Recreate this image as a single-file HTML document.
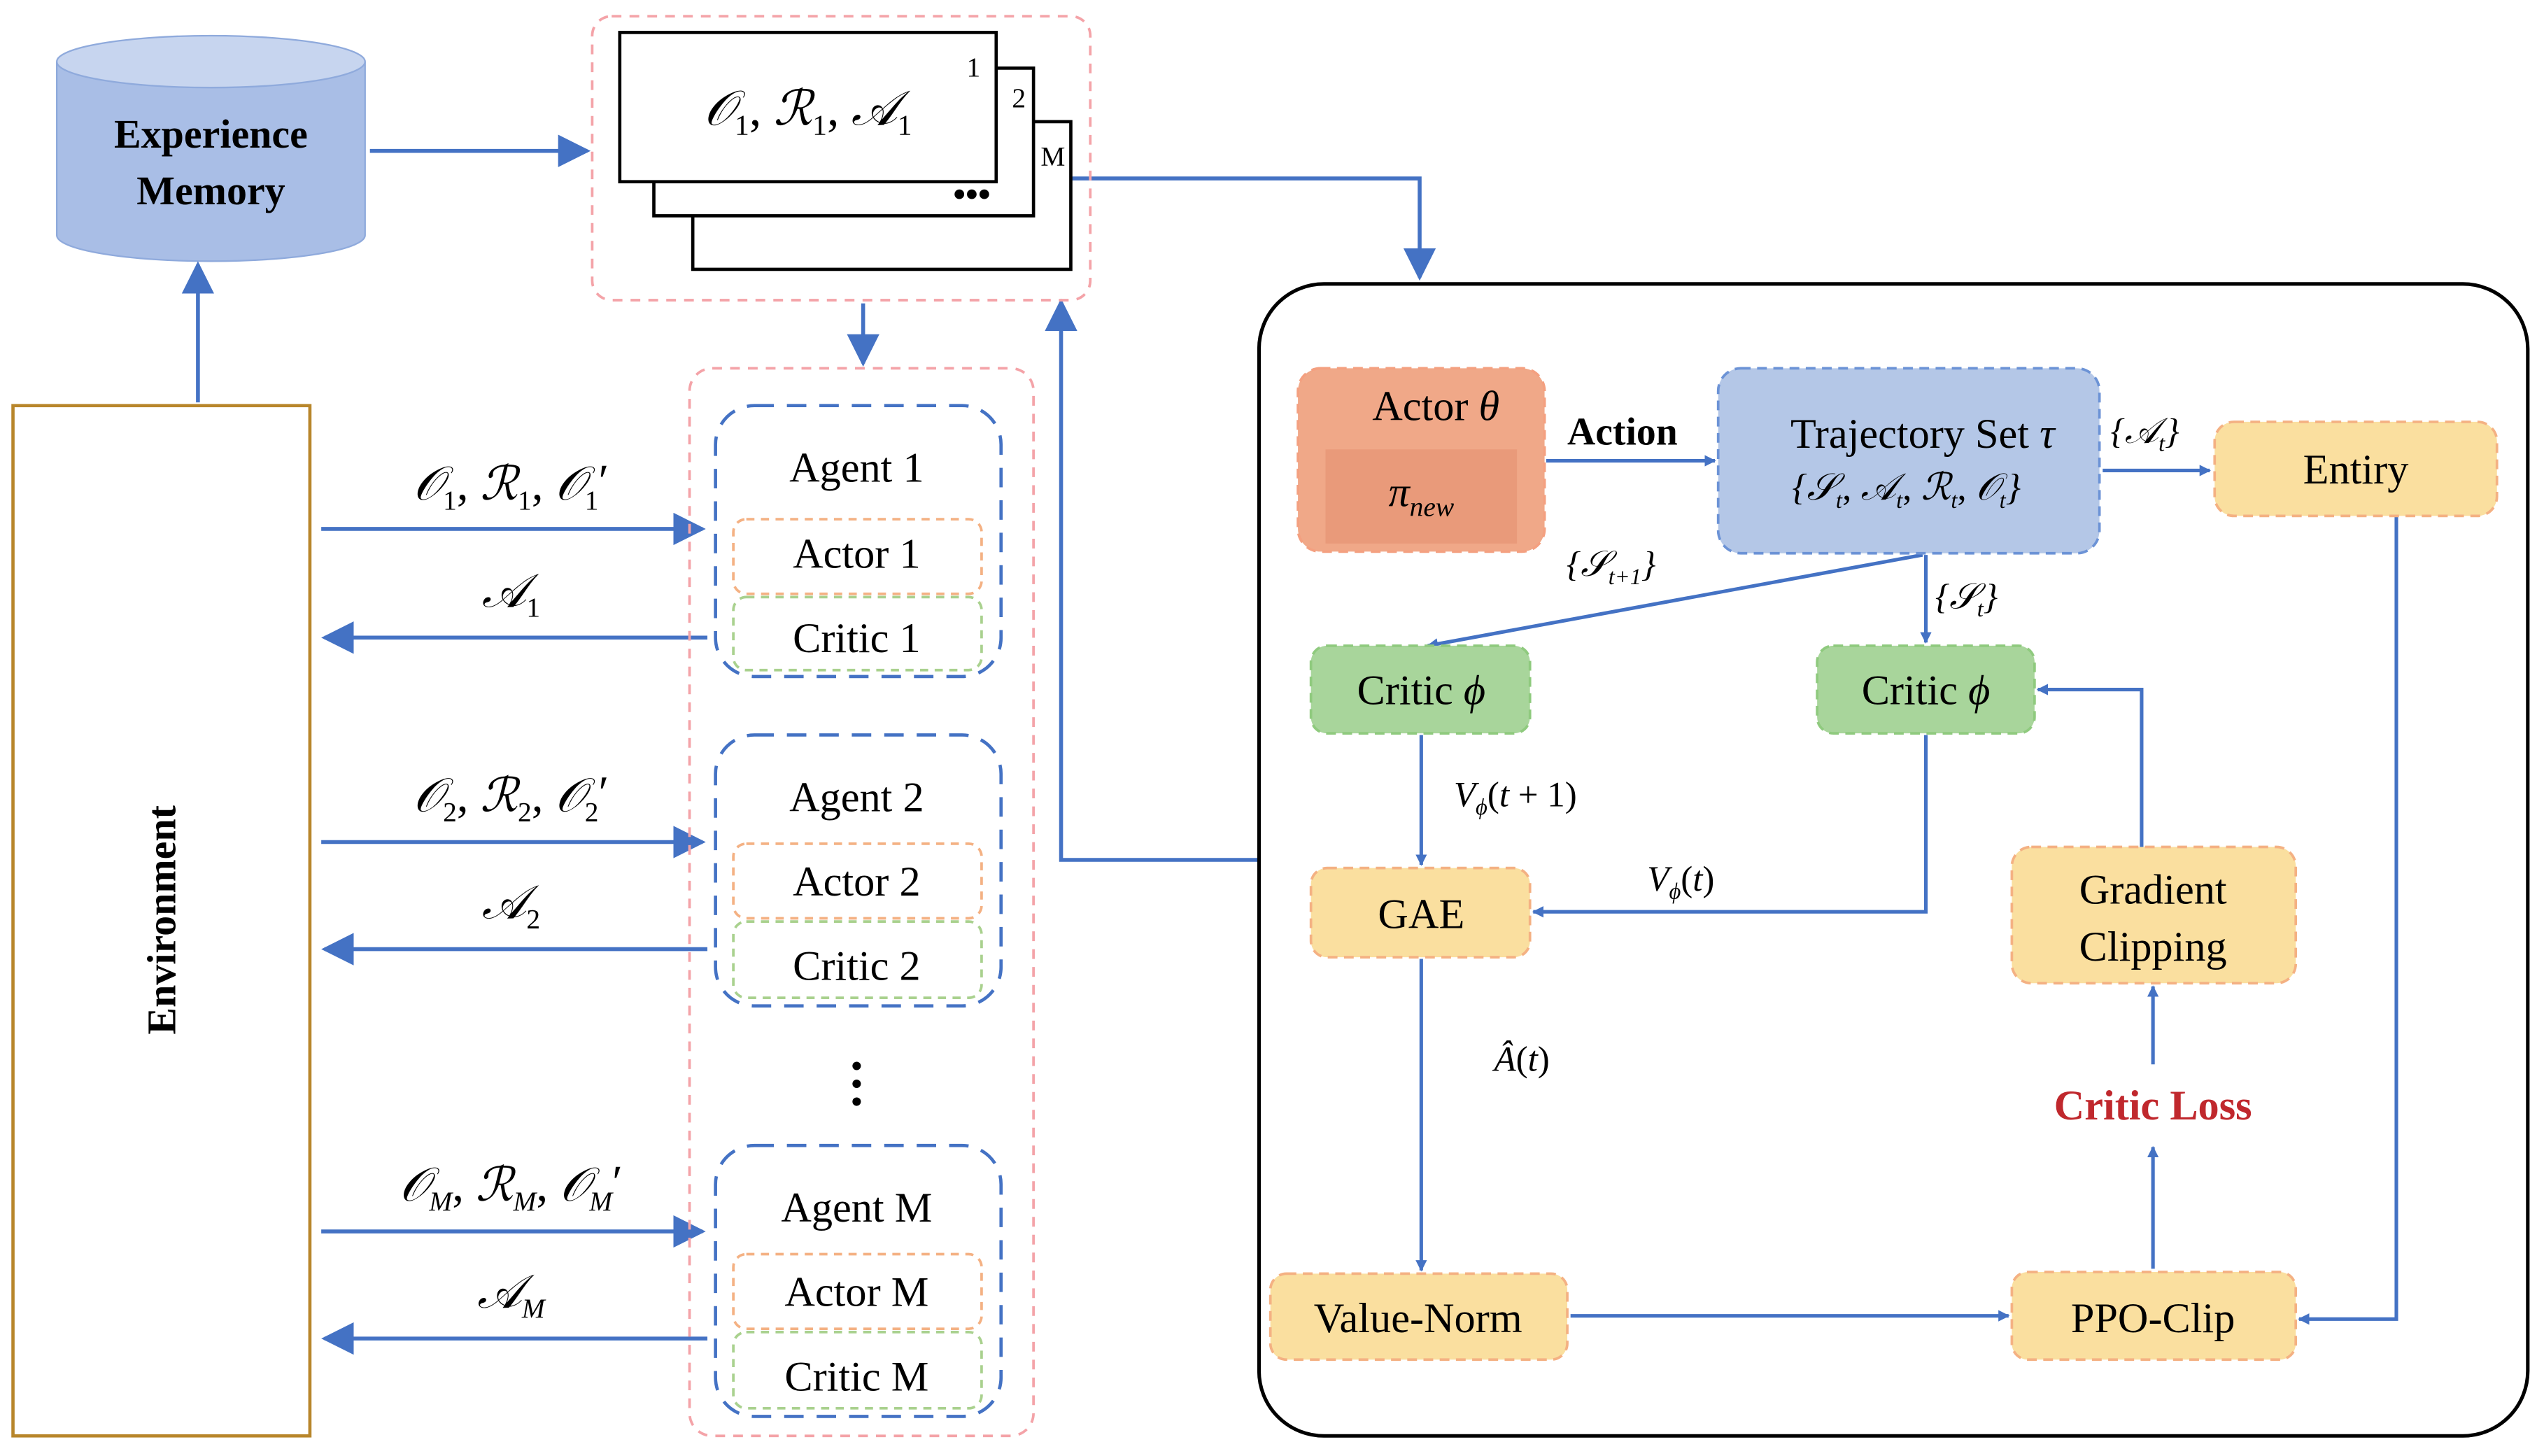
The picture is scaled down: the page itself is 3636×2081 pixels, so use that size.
<!DOCTYPE html>
<html><head><meta charset="utf-8">
<style>
html,body{margin:0;padding:0;background:#fff;}
svg{display:block;font-family:"Liberation Serif","Times New Roman","DejaVu Serif",serif;}
svg text{font-family:"Liberation Serif","Times New Roman","DejaVu Serif",serif !important;fill:#000;}
.m{font-style:italic;}
</style></head><body>
<svg width="3636" height="2081" viewBox="0 0 1568 897.4" preserveAspectRatio="none" xmlns="http://www.w3.org/2000/svg" font-family="Liberation Serif, Times New Roman, DejaVu Serif, serif">
<defs>
<marker id="a" viewBox="0 0 10 10" refX="9" refY="5" markerWidth="7" markerHeight="7" orient="auto" markerUnits="userSpaceOnUse">
<path d="M0,0 L10,5 L0,10 z" fill="#4472c4"/></marker>
<marker id="b" viewBox="0 0 10 10" refX="9" refY="5" markerWidth="20" markerHeight="20" orient="auto" markerUnits="userSpaceOnUse">
<path d="M0,0 L10,5 L0,10 z" fill="#4472c4"/></marker>
</defs>
<path d="M35,38 L35,145 A95,16 0 0 0 225,145 L225,38" fill="#a9bee6" stroke="#8faadc" stroke-width="1"/>
<ellipse cx="130" cy="38" rx="95" ry="16" fill="#c7d5ef" stroke="#8faadc" stroke-width="1"/>
<text x="130" y="91" font-size="25" font-weight="bold" text-anchor="middle">Experience</text>
<text x="130" y="126" font-size="25" font-weight="bold" text-anchor="middle">Memory</text>

<g stroke="#4472c4" stroke-width="2.4" fill="none">
<line x1="228" y1="93" x2="362" y2="93" marker-end="url(#b)"/>
<line x1="122" y1="248" x2="122" y2="163" marker-end="url(#b)"/>
<polyline points="660,110 875,110 875,171" marker-end="url(#b)"/>
<line x1="532" y1="187" x2="532" y2="224" marker-end="url(#b)"/>
<polyline points="776,530 654,530 654,186" marker-end="url(#b)"/>
<line x1="198" y1="326" x2="433" y2="326" marker-end="url(#b)"/>
<line x1="436" y1="393" x2="200" y2="393" marker-end="url(#b)"/>
<line x1="198" y1="519" x2="433" y2="519" marker-end="url(#b)"/>
<line x1="436" y1="585" x2="200" y2="585" marker-end="url(#b)"/>
<line x1="198" y1="759" x2="433" y2="759" marker-end="url(#b)"/>
<line x1="436" y1="825" x2="200" y2="825" marker-end="url(#b)"/>
</g>

<rect x="365" y="10" width="307" height="175" rx="12" fill="none" stroke="#f4a3a8" stroke-width="1.6" stroke-dasharray="6,5"/>
<rect x="427" y="75" width="233" height="91" fill="#fff" stroke="#000" stroke-width="2"/>
<rect x="403" y="42" width="234" height="91" fill="#fff" stroke="#000" stroke-width="2"/>
<rect x="382" y="20" width="232" height="92" fill="#fff" stroke="#000" stroke-width="2"/>
<text x="498" y="77" font-size="30" text-anchor="middle" class="m">𝒪<tspan font-size="18" dy="6" font-style="normal">1</tspan><tspan dy="-6" font-style="normal">, </tspan>ℛ<tspan font-size="18" dy="6" font-style="normal">1</tspan><tspan dy="-6" font-style="normal">, </tspan>𝒜<tspan font-size="18" dy="6" font-style="normal">1</tspan></text>
<text x="600" y="47" font-size="17" text-anchor="middle">1</text>
<text x="628" y="66" font-size="17" text-anchor="middle">2</text>
<text x="649" y="102" font-size="17" text-anchor="middle">M</text>
<text x="599" y="127" font-size="22" font-weight="bold" text-anchor="middle">•••</text>

<rect x="8" y="250" width="183" height="635" fill="#fff" stroke="#b8862b" stroke-width="2"/>
<text transform="translate(108,567) rotate(-90)" font-size="25" font-weight="bold" text-anchor="middle">Environment</text>

<g font-size="29" class="m">
<text x="315" y="308" text-anchor="middle">𝒪<tspan font-size="17" dy="6" font-style="normal">1</tspan><tspan dy="-6" font-style="normal">, </tspan>ℛ<tspan font-size="17" dy="6" font-style="normal">1</tspan><tspan dy="-6" font-style="normal">, </tspan>𝒪<tspan font-size="17" dy="6" font-style="normal">1</tspan><tspan dy="-8" font-style="normal">′</tspan></text>
<text x="315" y="374" text-anchor="middle">𝒜<tspan font-size="17" dy="6" font-style="normal">1</tspan></text>
<text x="315" y="500" text-anchor="middle">𝒪<tspan font-size="17" dy="6" font-style="normal">2</tspan><tspan dy="-6" font-style="normal">, </tspan>ℛ<tspan font-size="17" dy="6" font-style="normal">2</tspan><tspan dy="-6" font-style="normal">, </tspan>𝒪<tspan font-size="17" dy="6" font-style="normal">2</tspan><tspan dy="-8" font-style="normal">′</tspan></text>
<text x="315" y="566" text-anchor="middle">𝒜<tspan font-size="17" dy="6" font-style="normal">2</tspan></text>
<text x="315" y="740" text-anchor="middle">𝒪<tspan font-size="17" dy="6">M</tspan><tspan dy="-6" font-style="normal">, </tspan>ℛ<tspan font-size="17" dy="6">M</tspan><tspan dy="-6" font-style="normal">, </tspan>𝒪<tspan font-size="17" dy="6">M</tspan><tspan dy="-8" font-style="normal">′</tspan></text>
<text x="315" y="806" text-anchor="middle">𝒜<tspan font-size="17" dy="6">M</tspan></text>
</g>

<rect x="425" y="227" width="212" height="658" rx="14" fill="none" stroke="#f4a3a8" stroke-width="1.6" stroke-dasharray="6,5"/>
<g font-size="26" text-anchor="middle">
<rect x="441" y="250" width="176" height="167" rx="24" fill="none" stroke="#4472c4" stroke-width="2" stroke-dasharray="12,8"/>
<rect x="452" y="320" width="153" height="46" rx="8" fill="none" stroke="#f4b183" stroke-width="1.6" stroke-dasharray="5,4"/>
<rect x="452" y="368" width="153" height="45" rx="8" fill="none" stroke="#a9d18e" stroke-width="1.6" stroke-dasharray="5,4"/>
<text x="528" y="297">Agent 1</text><text x="528" y="350">Actor 1</text><text x="528" y="402">Critic 1</text>
<rect x="441" y="453" width="176" height="167" rx="24" fill="none" stroke="#4472c4" stroke-width="2" stroke-dasharray="12,8"/>
<rect x="452" y="520" width="153" height="46" rx="8" fill="none" stroke="#f4b183" stroke-width="1.6" stroke-dasharray="5,4"/>
<rect x="452" y="568" width="153" height="47" rx="8" fill="none" stroke="#a9d18e" stroke-width="1.6" stroke-dasharray="5,4"/>
<text x="528" y="500">Agent 2</text><text x="528" y="552">Actor 2</text><text x="528" y="604">Critic 2</text>
<rect x="441" y="706" width="176" height="167" rx="24" fill="none" stroke="#4472c4" stroke-width="2" stroke-dasharray="12,8"/>
<rect x="452" y="773" width="153" height="46" rx="8" fill="none" stroke="#f4b183" stroke-width="1.6" stroke-dasharray="5,4"/>
<rect x="452" y="821" width="153" height="47" rx="8" fill="none" stroke="#a9d18e" stroke-width="1.6" stroke-dasharray="5,4"/>
<text x="528" y="753">Agent M</text><text x="528" y="805">Actor M</text><text x="528" y="857">Critic M</text>
</g>
<circle cx="528" cy="657" r="2.6"/><circle cx="528" cy="668" r="2.6"/><circle cx="528" cy="679" r="2.6"/>

<rect x="776" y="175" width="782" height="710" rx="40" fill="none" stroke="#000" stroke-width="2.2"/>
<g stroke="#4472c4" stroke-width="2.2" fill="none">
<line x1="953" y1="284" x2="1057" y2="284" marker-end="url(#a)"/>
<line x1="1296" y1="290" x2="1362" y2="290" marker-end="url(#a)"/>
<polyline points="1477,318 1477,813 1417,813" marker-end="url(#a)"/>
<line x1="1185" y1="342" x2="880" y2="398" marker-end="url(#a)"/>
<line x1="1187" y1="342" x2="1187" y2="396" marker-end="url(#a)"/>
<line x1="876" y1="453" x2="876" y2="533" marker-end="url(#a)"/>
<polyline points="1187,453 1187,562 945,562" marker-end="url(#a)"/>
<line x1="876" y1="591" x2="876" y2="783" marker-end="url(#a)"/>
<line x1="968" y1="811" x2="1238" y2="811" marker-end="url(#a)"/>
<line x1="1327" y1="782" x2="1327" y2="707" marker-end="url(#a)"/>
<line x1="1327" y1="656" x2="1327" y2="608" marker-end="url(#a)"/>
<polyline points="1320,522 1320,425 1256,425" marker-end="url(#a)"/>
</g>

<g font-size="26" text-anchor="middle">
<rect x="800" y="227" width="152" height="113" rx="14" fill="#f0a888" stroke="#f4a080" stroke-width="1.6" stroke-dasharray="6,4"/>
<rect x="817" y="277" width="118" height="58" fill="#e99a7a"/>
<text x="885" y="259">Actor <tspan class="m">θ</tspan></text>
<text x="876" y="312" class="m">π<tspan font-size="17" dy="6">new</tspan></text>

<rect x="1059" y="227" width="235" height="114" rx="14" fill="#b4c7e7" stroke="#6c93d6" stroke-width="1.6" stroke-dasharray="6,4"/>
<text x="1185" y="276">Trajectory Set <tspan class="m">τ</tspan></text>
<text x="1175" y="308" font-size="23" class="m">{𝒮<tspan font-size="14" dy="5">t</tspan><tspan dy="-5" font-style="normal">, </tspan>𝒜<tspan font-size="14" dy="5">t</tspan><tspan dy="-5" font-style="normal">, </tspan>ℛ<tspan font-size="14" dy="5">t</tspan><tspan dy="-5" font-style="normal">, </tspan>𝒪<tspan font-size="14" dy="5">t</tspan><tspan dy="-5">}</tspan></text>

<rect x="1365" y="260" width="174" height="58" rx="12" fill="#fadf9f" stroke="#f4b183" stroke-width="1.6" stroke-dasharray="6,4"/>
<text x="1452" y="298">Entiry</text>

<rect x="808" y="398" width="135" height="54" rx="10" fill="#a8d59b" stroke="#8fca7e" stroke-width="1.6" stroke-dasharray="6,4"/>
<text x="876" y="434">Critic <tspan class="m">ϕ</tspan></text>
<rect x="1120" y="398" width="134" height="54" rx="10" fill="#a8d59b" stroke="#8fca7e" stroke-width="1.6" stroke-dasharray="6,4"/>
<text x="1187" y="434">Critic <tspan class="m">ϕ</tspan></text>

<rect x="808" y="535" width="135" height="55" rx="10" fill="#fadf9f" stroke="#f4b183" stroke-width="1.6" stroke-dasharray="6,4"/>
<text x="876" y="572">GAE</text>
<rect x="1240" y="522" width="175" height="84" rx="12" fill="#fadf9f" stroke="#f4b183" stroke-width="1.6" stroke-dasharray="6,4"/>
<text x="1327" y="557">Gradient</text><text x="1327" y="592">Clipping</text>
<rect x="783" y="785" width="183" height="53" rx="10" fill="#fadf9f" stroke="#f4b183" stroke-width="1.6" stroke-dasharray="6,4"/>
<text x="874" y="821">Value-Norm</text>
<rect x="1240" y="784" width="175" height="54" rx="10" fill="#fadf9f" stroke="#f4b183" stroke-width="1.6" stroke-dasharray="6,4"/>
<text x="1327" y="821">PPO-Clip</text>
<text x="1327" y="690" font-weight="bold" style="fill:#c0282d">Critic Loss</text>
<text x="1000" y="274" font-weight="bold" font-size="24">Action</text>
</g>
<g font-size="22" class="m" text-anchor="middle">
<text x="1322" y="273">{𝒜<tspan font-size="14" dy="5">t</tspan><tspan dy="-5">}</tspan></text>
<text x="993" y="355">{𝒮<tspan font-size="14" dy="5">t+1</tspan><tspan dy="-5">}</tspan></text>
<text x="1212" y="375">{𝒮<tspan font-size="14" dy="5">t</tspan><tspan dy="-5">}</tspan></text>
<text x="934" y="497">V<tspan font-size="14" dy="5">ϕ</tspan><tspan dy="-5" font-style="normal">(</tspan>t<tspan font-style="normal"> + 1)</tspan></text>
<text x="1036" y="549">V<tspan font-size="14" dy="5">ϕ</tspan><tspan dy="-5" font-style="normal">(</tspan>t<tspan font-style="normal">)</tspan></text>
<text x="938" y="660">Â<tspan font-style="normal">(</tspan>t<tspan font-style="normal">)</tspan></text>
</g>
</svg>
</body></html>
